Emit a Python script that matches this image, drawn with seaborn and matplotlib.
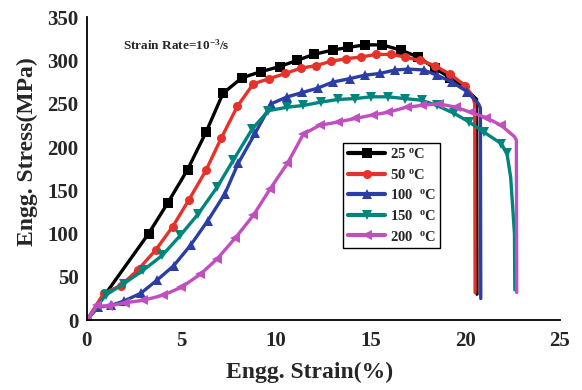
import numpy as np
import pandas as pd
import matplotlib
matplotlib.use("Agg")
import matplotlib.pyplot as plt
import seaborn as sns
from matplotlib.ticker import MultipleLocator
from matplotlib.lines import Line2D

sns.set_style("white")
plt.rcParams['font.family'] = ['Liberation Serif', 'DejaVu Serif']
plt.rcParams['mathtext.fontset'] = 'custom'
plt.rcParams['mathtext.rm'] = 'Liberation Serif:bold'
plt.rcParams['mathtext.it'] = 'Liberation Serif:bold'

# Engineering stress-strain curves at strain rate 1e-3 /s
labels = ["25 $^{o}$C", "50 $^{o}$C", "100  $^{o}$C", "150  $^{o}$C", "200  $^{o}$C"]
colors = ["#000000", "#e5322a", "#2c3da6", "#00857e", "#c04fc0"]
markers = ["s", "o", "^", "v", "<"]

strain_25 = [0.0, 3.27, 4.27, 5.33, 6.3, 7.2, 8.2, 9.2, 10.2, 11.1, 12.0, 13.0,
             13.8, 14.7, 15.6, 16.6, 17.5, 18.4, 19.2, 20.0, 20.6, 20.62]
stress_25 = [0, 100, 135, 174, 217, 262, 280, 287, 293, 300, 307, 312,
             315, 318, 318, 312, 304, 291, 280, 268, 255, 30]

strain_50 = [0.0, 0.9, 1.8, 2.7, 3.64, 4.54, 5.4, 6.3, 7.1, 7.96, 8.8, 9.65, 10.5,
             11.3, 12.1, 12.9, 13.7, 14.5, 15.3, 16.1, 16.8, 17.6, 18.4, 19.2,
             20.0, 20.4, 20.5, 20.52]
stress_50 = [0, 31, 40, 58, 81, 108, 139, 173, 210, 247, 273, 279, 285,
             291, 294, 299, 302, 304, 307, 307, 304, 300, 294, 284,
             271, 258, 250, 32]

strain_100 = [0.0, 0.6, 1.27, 1.95, 2.85, 3.7, 4.6, 5.5, 6.4, 7.3, 8.0, 8.9, 9.75,
              10.6, 11.4, 12.2, 13.0, 13.9, 14.7, 15.5, 16.3, 17.0, 17.8, 18.5,
              19.3, 20.1, 20.7, 20.8, 20.82]
stress_100 = [0, 15, 17, 22, 31, 46, 63, 87, 115, 146, 181, 216, 250,
              258, 263, 268, 275, 279, 283, 285, 289, 290, 289, 283,
              275, 264, 250, 245, 25]

strain_150 = [0.0, 1.0, 1.95, 3.0, 4.0, 4.95, 5.9, 6.9, 7.75, 8.75, 9.6, 10.6,
              11.45, 12.4, 13.3, 14.2, 15.0, 15.9, 16.8, 17.7, 18.5, 19.4,
              20.2, 21.0, 21.9, 22.2, 22.4, 22.6, 22.62]
stress_150 = [0, 29, 42, 58, 75, 98, 123, 154, 185, 221, 242, 246,
              248, 252, 255, 256, 258, 258, 256, 254, 248, 239,
              229, 217, 204, 193, 165, 100, 35]

strain_200 = [0.0, 0.55, 1.1, 2.0, 3.0, 4.05, 5.0, 6.0, 6.9, 7.85, 8.8, 9.7, 10.6,
              11.45, 12.3, 13.3, 14.2, 15.1, 15.9, 16.9, 17.7, 18.6, 19.5,
              20.3, 21.1, 21.9, 22.6, 22.7, 22.72]
stress_200 = [0, 17, 16, 20, 23, 29, 38, 53, 71, 95, 121, 152, 181,
              215, 225, 229, 233, 237, 240, 246, 248, 250, 246,
              240, 234, 225, 212, 208, 32]

series = [(strain_25, stress_25), (strain_50, stress_50), (strain_100, stress_100),
          (strain_150, stress_150), (strain_200, stress_200)]

fig = plt.figure(figsize=(5.82, 3.90), dpi=100)
ax = fig.add_axes([0.149, 0.179, 0.813, 0.777])

for (sx, sy), lab, c, m in zip(series, labels, colors, markers):
    df = pd.DataFrame({"strain": sx, "stress": sy})
    n_mark = len(sx) - 3
    sns.lineplot(data=df, x="strain", y="stress", ax=ax, sort=False, estimator=None,
                 color=c, lw=2.4, marker=m, markersize=6.5, markeredgewidth=0,
                 markevery=list(range(0, n_mark)), label=lab, legend=False)

ax.set_xlim(0, 25)
ax.set_ylim(0, 350)
ax.xaxis.set_major_locator(MultipleLocator(5))
ax.xaxis.set_minor_locator(MultipleLocator(2.5))
ax.yaxis.set_major_locator(MultipleLocator(50))
ax.yaxis.set_minor_locator(MultipleLocator(25))
ax.tick_params(which="both", direction="in", width=1.2)
ax.tick_params(which="major", length=6, labelsize=15)
ax.tick_params(axis="x", which="major", pad=8)
ax.tick_params(axis="y", which="major", pad=6)
ax.tick_params(which="minor", length=3)
for t in ax.get_xticklabels() + ax.get_yticklabels():
    t.set_fontweight("bold")

for s in ["top", "right"]:
    ax.spines[s].set_visible(False)
for s in ["left", "bottom"]:
    ax.spines[s].set_linewidth(1.3)
    ax.spines[s].set_color("black")

ax.set_xlabel("Engg. Strain(%)", fontsize=17, fontweight="bold")
ax.set_ylabel("Engg. Stress(MPa)", fontsize=17, fontweight="bold")
ax.xaxis.set_label_coords(0.471, -0.138)
ax.yaxis.set_label_coords(-0.104, 0.556)

ax.text(1.9, 318, "Strain Rate=10$^{-3}$/s", fontsize=9.5, fontweight="bold",
        ha="left", va="center")

handles = [Line2D([], [], color=c, lw=3, marker=m, markersize=6.5, markeredgewidth=0)
           for c, m in zip(colors, markers)]
leg = ax.legend(handles, labels, loc="upper left", bbox_to_anchor=(0.542, 0.585),
                frameon=True, fancybox=False, edgecolor="black", framealpha=1,
                prop={"weight": "bold", "size": 10.5}, handlelength=2.6,
                handletextpad=0.3, labelspacing=0.45, borderpad=0.3,
                borderaxespad=0)
leg.get_frame().set_linewidth(1.0)

fig.savefig("out.png", dpi=100)
